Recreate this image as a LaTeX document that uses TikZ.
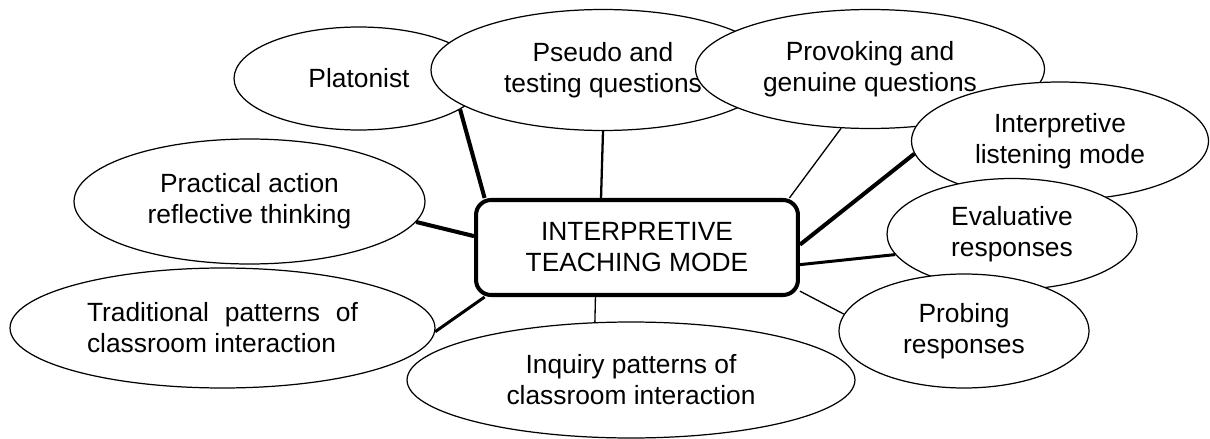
\documentclass[tikz,border=0pt]{standalone}
\usepackage{fontspec}
\setmainfont{Liberation Sans}
\usetikzlibrary{shapes.geometric}

\begin{document}
\begin{tikzpicture}[x=0.02cm, y=-0.02cm,
  idea node/.style={ellipse,draw,fill=white,line width=0.7pt,inner sep=0pt,
    align=center,font=\fontsize{15}{17.6}\selectfont},
  hub node/.style={rectangle,draw,fill=white,rounded corners=0.3cm,line width=2.3pt,
    inner sep=0pt,align=center,minimum width=6.44cm,minimum height=1.9cm,
    font=\fontsize{15}{17.6}\selectfont}]

\useasboundingbox (0,0) rectangle (1210,439);

\node[idea node, minimum width=5cm, minimum height=2.06cm] (plat) at (359,78.5) {Platonist};
\node[idea node, minimum width=6.88cm, minimum height=2.42cm] (pseudo) at (603,70) {Pseudo and\\testing questions};
\node[idea node, minimum width=6.98cm, minimum height=2.38cm] (prov) at (870,69) {Provoking and\\genuine questions};
\node[idea node, minimum width=5.94cm, minimum height=2.36cm] (listen) at (1060,141) {Interpretive\\listening mode};
\node[idea node, minimum width=5cm, minimum height=2.22cm] (eval) at (1012,234) {Evaluative\\responses};
\node[idea node, minimum width=5cm, minimum height=2.28cm] (probe) at (964,331) {Probing\\responses};
\node[idea node, minimum width=8.96cm, minimum height=2.32cm] (inq) at (631,380) {Inquiry patterns of\\classroom interaction};
\node[idea node, minimum width=8.5cm, minimum height=2.4cm, align=justify, text width=5.42cm] (trad) at (222.5,328) {Traditional patterns of classroom interaction};
\node[idea node, minimum width=7.02cm, minimum height=2.5cm] (pract) at (249.5,201.5) {Practical action\\reflective thinking};

\node[hub node] (core) at (637,247.5) {INTERPRETIVE\\TEACHING MODE};

\path[line width=0.75pt]
(prov.244) edge (core.18)
(probe.172) edge (core.-15)
(inq.122) edge (core.230)
;

\draw[line width=1.3pt] (pseudo.south) -- (core.126);
\draw[line width=1.7pt] (trad.-1) -- (core.198);
\draw[line width=1.7pt] (eval.190) -- (core.-6);
\draw[line width=2.3pt] (plat.-17) -- (core.162);
\draw[line width=2.3pt] (pract.-7) -- (core.176);
\draw[line width=2.3pt] (listen.185) -- (core.1);
\end{tikzpicture}
\end{document}
